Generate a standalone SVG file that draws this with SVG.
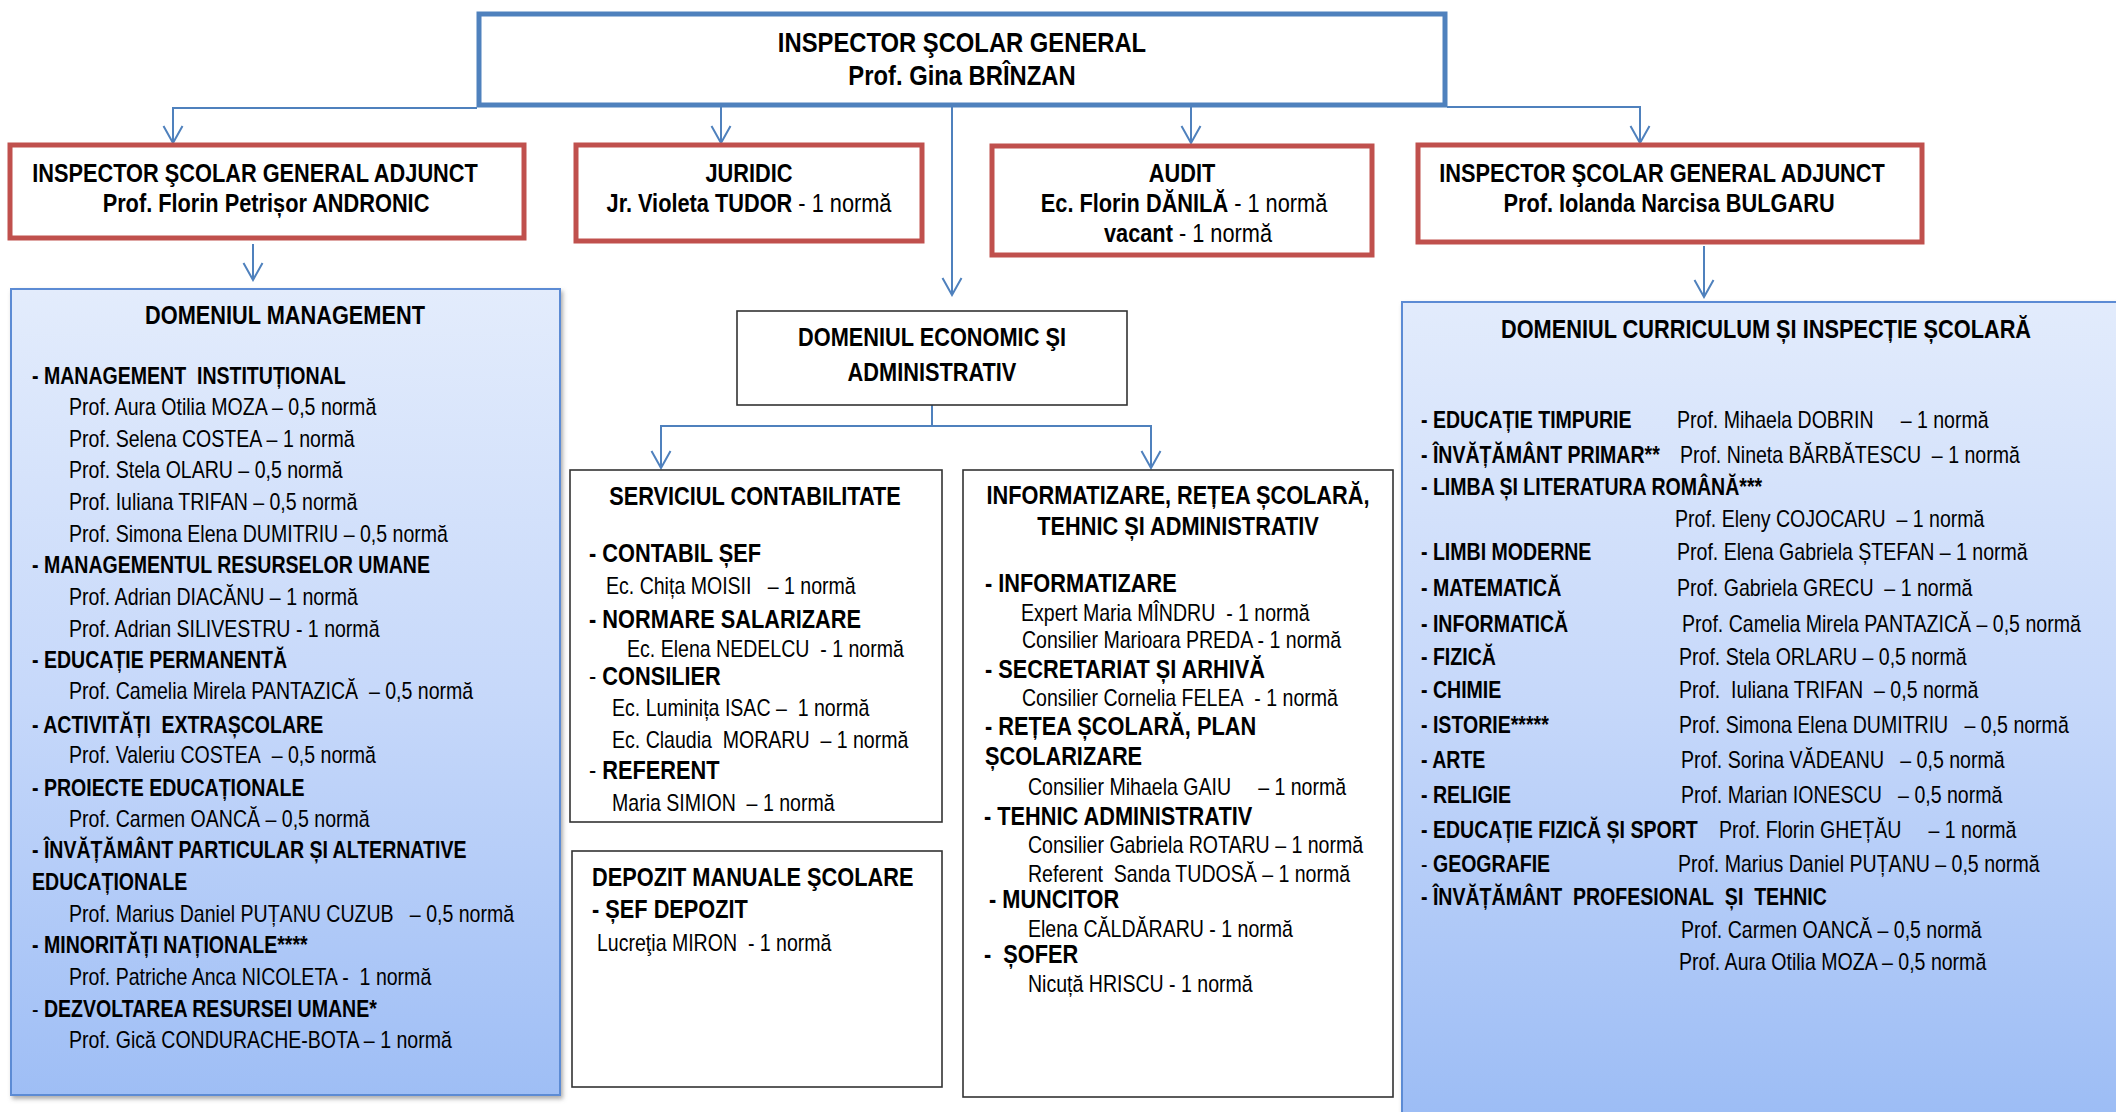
<svg xmlns="http://www.w3.org/2000/svg" width="2116" height="1112" viewBox="0 0 2116 1112" xml:space="preserve">
<defs>
<style>
.f{font-family:"Liberation Sans",Arial,sans-serif;fill:#000;white-space:pre}
.h28{font-size:28px;font-weight:bold}
.h26{font-size:25.6px;font-weight:bold}
.b{font-size:23px;font-weight:bold}
.r{font-size:23px;font-weight:normal}
.rw{font-weight:normal}
.m{text-anchor:middle}
.blue{fill:#fff;stroke:#4F81BD;stroke-width:5}
.red{fill:#fff;stroke:#C0504D;stroke-width:5}
.blk{fill:#fff;stroke:#333;stroke-width:1.6}
.dom{fill:url(#grad);stroke:#5B8BD4;stroke-width:2;filter:url(#sh)}
.con{fill:none;stroke:#4F81BD;stroke-width:2;marker-end:url(#arr)}
</style>
<linearGradient id="grad" gradientUnits="userSpaceOnUse" x1="0" y1="290" x2="0" y2="1110">
<stop offset="0" stop-color="#E3ECFC"/>
<stop offset="0.5" stop-color="#C6D8FA"/>
<stop offset="1" stop-color="#9DBDF5"/>
</linearGradient>
<filter id="sh" x="-5%" y="-5%" width="110%" height="110%">
<feDropShadow dx="2" dy="3" stdDeviation="2" flood-color="#777" flood-opacity="0.6"/>
</filter>
<marker id="arr" viewBox="-20 -12 22 24" refX="0" refY="0" markerWidth="22" markerHeight="24" markerUnits="userSpaceOnUse" orient="auto">
<path d="M-17,-9.5 L0,0 L-17,9.5" fill="none" stroke="#4F81BD" stroke-width="2"/>
</marker>
</defs>
<rect x="0" y="0" width="2116" height="1112" fill="#fff"/>

<g id="connectors">
<path class="con" d="M477,108 H173 V143"/>
<path class="con" d="M721,106 V143"/>
<path class="con" d="M952,106 V295"/>
<path class="con" d="M1191,106 V143"/>
<path class="con" d="M1447,107 H1640 V143"/>
<path class="con" d="M253,244 V280"/>
<path class="con" d="M1704,246 V297"/>
<path class="con" d="M932,405 V426 H661 V468"/>
<path class="con" d="M932,426 H1151 V468"/>
</g>

<g id="n-isg">
<rect class="blue" x="479" y="14" width="966" height="91"/>
<text class="f h28 m" transform="translate(962,52) scale(.85,1)">INSPECTOR ŞCOLAR GENERAL</text>
<text class="f h28 m" transform="translate(962,85) scale(.85,1)">Prof. Gina BRÎNZAN</text>
</g>

<g id="n-isga1">
<rect class="red" x="10" y="145" width="514" height="93"/>
<text class="f h26 m" transform="translate(255,182) scale(.85,1)">INSPECTOR ŞCOLAR GENERAL ADJUNCT</text>
<text class="f h26 m" transform="translate(266,212) scale(.85,1)">Prof. Florin Petrișor ANDRONIC</text>
</g>

<g id="n-juridic">
<rect class="red" x="576" y="145" width="346" height="96"/>
<text class="f h26 m" transform="translate(749,182) scale(.85,1)">JURIDIC</text>
<text class="f h26 m" transform="translate(749,212) scale(.85,1)">Jr. Violeta TUDOR<tspan class="rw"> - 1 normă</tspan></text>
</g>

<g id="n-audit">
<rect class="red" x="992" y="146" width="380" height="109"/>
<text class="f h26 m" transform="translate(1182,182) scale(.85,1)">AUDIT</text>
<text class="f h26 m" transform="translate(1184,212) scale(.85,1)">Ec. Florin DĂNILĂ<tspan class="rw"> - 1 normă</tspan></text>
<text class="f h26 m" transform="translate(1188,242) scale(.85,1)">vacant<tspan class="rw"> - 1 normă</tspan></text>
</g>

<g id="n-isga2">
<rect class="red" x="1418" y="145" width="504" height="97"/>
<text class="f h26 m" transform="translate(1662,182) scale(.85,1)">INSPECTOR ŞCOLAR GENERAL ADJUNCT</text>
<text class="f h26 m" transform="translate(1669,212) scale(.85,1)">Prof. Iolanda Narcisa BULGARU</text>
</g>

<g id="n-management">
<rect class="dom" x="11" y="289" width="549" height="806"/>
<text class="f h26 m" transform="translate(285,324) scale(.85,1)">DOMENIUL MANAGEMENT</text>
<text class="f b" transform="translate(32,384) scale(.85,1)">- MANAGEMENT&#160; INSTITUȚIONAL</text>
<text class="f r" transform="translate(69,415) scale(.85,1)">Prof. Aura Otilia MOZA – 0,5 normă</text>
<text class="f r" transform="translate(69,447) scale(.85,1)">Prof. Selena COSTEA – 1 normă</text>
<text class="f r" transform="translate(69,478) scale(.85,1)">Prof. Stela OLARU – 0,5 normă</text>
<text class="f r" transform="translate(69,510) scale(.85,1)">Prof. Iuliana TRIFAN – 0,5 normă</text>
<text class="f r" transform="translate(69,542) scale(.85,1)">Prof. Simona Elena DUMITRIU – 0,5 normă</text>
<text class="f b" transform="translate(32,573) scale(.85,1)">- MANAGEMENTUL RESURSELOR UMANE</text>
<text class="f r" transform="translate(69,605) scale(.85,1)">Prof. Adrian DIACĂNU – 1 normă</text>
<text class="f r" transform="translate(69,637) scale(.85,1)">Prof. Adrian SILIVESTRU - 1 normă</text>
<text class="f b" transform="translate(32,668) scale(.85,1)">- EDUCAȚIE PERMANENTĂ</text>
<text class="f r" transform="translate(69,699) scale(.85,1)">Prof. Camelia Mirela PANTAZICĂ&#160; – 0,5 normă</text>
<text class="f b" transform="translate(32,733) scale(.85,1)">- ACTIVITĂȚI&#160; EXTRAȘCOLARE</text>
<text class="f r" transform="translate(69,763) scale(.85,1)">Prof. Valeriu COSTEA&#160; – 0,5 normă</text>
<text class="f b" transform="translate(32,796) scale(.85,1)">- PROIECTE EDUCAȚIONALE</text>
<text class="f r" transform="translate(69,827) scale(.85,1)">Prof. Carmen OANCĂ – 0,5 normă</text>
<text class="f b" transform="translate(32,858) scale(.85,1)">- ÎNVĂȚĂMÂNT PARTICULAR ȘI ALTERNATIVE</text>
<text class="f b" transform="translate(32,890) scale(.85,1)">EDUCAȚIONALE</text>
<text class="f r" transform="translate(69,922) scale(.85,1)">Prof. Marius Daniel PUȚANU CUZUB&#160;&#160; – 0,5 normă</text>
<text class="f b" transform="translate(32,953) scale(.85,1)">- MINORITĂȚI NAȚIONALE****</text>
<text class="f r" transform="translate(69,985) scale(.85,1)">Prof. Patriche Anca NICOLETA -&#160; 1 normă</text>
<text class="f b" transform="translate(32,1017) scale(.85,1)"><tspan class="rw">- </tspan>DEZVOLTAREA RESURSEI UMANE*</text>
<text class="f r" transform="translate(69,1048) scale(.85,1)">Prof. Gică CONDURACHE-BOTA – 1 normă</text>
</g>

<g id="n-economic">
<rect class="blk" x="737" y="311" width="390" height="94"/>
<text class="f h26 m" transform="translate(932,346) scale(.85,1)">DOMENIUL ECONOMIC ŞI</text>
<text class="f h26 m" transform="translate(932,381) scale(.85,1)">ADMINISTRATIV</text>
</g>

<g id="n-contabilitate">
<rect class="blk" x="570" y="470" width="372" height="352"/>
<text class="f h26 m" transform="translate(755,505) scale(.85,1)">SERVICIUL CONTABILITATE</text>
<text class="f h26" transform="translate(589,562) scale(.85,1)">- CONTABIL ȘEF</text>
<text class="f r" transform="translate(606,594) scale(.85,1)">Ec. Chița MOISII&#160;&#160; – 1 normă</text>
<text class="f h26" transform="translate(589,628) scale(.85,1)">- NORMARE SALARIZARE</text>
<text class="f r" transform="translate(627,657) scale(.85,1)">Ec. Elena NEDELCU&#160; - 1 normă</text>
<text class="f h26" transform="translate(589,685) scale(.85,1)"><tspan class="rw">- </tspan>CONSILIER</text>
<text class="f r" transform="translate(612,716) scale(.85,1)">Ec. Luminița ISAC –&#160; 1 normă</text>
<text class="f r" transform="translate(612,748) scale(.85,1)">Ec. Claudia&#160; MORARU&#160; – 1 normă</text>
<text class="f h26" transform="translate(589,779) scale(.85,1)"><tspan class="rw">- </tspan>REFERENT</text>
<text class="f r" transform="translate(612,811) scale(.85,1)">Maria SIMION&#160; – 1 normă</text>
</g>

<g id="n-depozit">
<rect class="blk" x="572" y="851" width="370" height="236"/>
<text class="f h26" transform="translate(592,886) scale(.85,1)">DEPOZIT MANUALE ŞCOLARE</text>
<text class="f h26" transform="translate(592,918) scale(.85,1)">- ȘEF DEPOZIT</text>
<text class="f r" transform="translate(597,951) scale(.85,1)">Lucreţia MIRON&#160; - 1 normă</text>
</g>

<g id="n-informatizare">
<rect class="blk" x="963" y="470" width="430" height="627"/>
<text class="f h26 m" transform="translate(1178,504) scale(.85,1)">INFORMATIZARE, REȚEA ȘCOLARĂ,</text>
<text class="f h26 m" transform="translate(1178,535) scale(.85,1)">TEHNIC ȘI ADMINISTRATIV</text>
<text class="f h26" transform="translate(985,592) scale(.85,1)">- INFORMATIZARE</text>
<text class="f r" transform="translate(1021,621) scale(.85,1)">Expert Maria MÎNDRU&#160; - 1 normă</text>
<text class="f r" transform="translate(1022,648) scale(.85,1)">Consilier Marioara PREDA - 1 normă</text>
<text class="f h26" transform="translate(985,678) scale(.85,1)">- SECRETARIAT ȘI ARHIVĂ</text>
<text class="f r" transform="translate(1022,706) scale(.85,1)">Consilier Cornelia FELEA&#160; - 1 normă</text>
<text class="f h26" transform="translate(985,735) scale(.85,1)">- REȚEA ȘCOLARĂ, PLAN</text>
<text class="f h26" transform="translate(985,765) scale(.85,1)">ȘCOLARIZARE</text>
<text class="f r" transform="translate(1028,795) scale(.85,1)">Consilier Mihaela GAIU&#160;&#160;&#160;&#160; – 1 normă</text>
<text class="f h26" transform="translate(984,825) scale(.85,1)">- TEHNIC ADMINISTRATIV</text>
<text class="f r" transform="translate(1028,853) scale(.85,1)">Consilier Gabriela ROTARU – 1 normă</text>
<text class="f r" transform="translate(1028,882) scale(.85,1)">Referent&#160; Sanda TUDOSĂ – 1 normă</text>
<text class="f h26" transform="translate(989,908) scale(.85,1)">- MUNCITOR</text>
<text class="f r" transform="translate(1028,937) scale(.85,1)">Elena CĂLDĂRARU - 1 normă</text>
<text class="f h26" transform="translate(984,963) scale(.85,1)">-&#160; ȘOFER</text>
<text class="f r" transform="translate(1028,992) scale(.85,1)">Nicuță HRISCU - 1 normă</text>
</g>

<g id="n-curriculum">
<rect class="dom" x="1402" y="302" width="740" height="840"/>
<text class="f h26 m" transform="translate(1766,338) scale(.85,1)">DOMENIUL CURRICULUM ȘI INSPECȚIE ȘCOLARĂ</text>
<text class="f b" transform="translate(1421,428) scale(.85,1)">- EDUCAȚIE TIMPURIE</text>
<text class="f r" transform="translate(1677,428) scale(.85,1)">Prof. Mihaela DOBRIN&#160;&#160;&#160;&#160; – 1 normă</text>
<text class="f b" transform="translate(1421,463) scale(.85,1)">- ÎNVĂȚĂMÂNT PRIMAR**</text>
<text class="f r" transform="translate(1680,463) scale(.85,1)">Prof. Nineta BĂRBĂTESCU&#160; – 1 normă</text>
<text class="f b" transform="translate(1421,495) scale(.85,1)">- LIMBA ȘI LITERATURA ROMÂNĂ***</text>
<text class="f r" transform="translate(1675,527) scale(.85,1)">Prof. Eleny COJOCARU&#160; – 1 normă</text>
<text class="f b" transform="translate(1421,560) scale(.85,1)">- LIMBI MODERNE</text>
<text class="f r" transform="translate(1677,560) scale(.85,1)">Prof. Elena Gabriela ȘTEFAN – 1 normă</text>
<text class="f b" transform="translate(1421,596) scale(.85,1)">- MATEMATICĂ</text>
<text class="f r" transform="translate(1677,596) scale(.85,1)">Prof. Gabriela GRECU&#160; – 1 normă</text>
<text class="f b" transform="translate(1421,632) scale(.85,1)">- INFORMATICĂ</text>
<text class="f r" transform="translate(1682,632) scale(.85,1)">Prof. Camelia Mirela PANTAZICĂ – 0,5 normă</text>
<text class="f b" transform="translate(1421,665) scale(.85,1)">- FIZICĂ</text>
<text class="f r" transform="translate(1679,665) scale(.85,1)">Prof. Stela ORLARU – 0,5 normă</text>
<text class="f b" transform="translate(1421,698) scale(.85,1)">- CHIMIE</text>
<text class="f r" transform="translate(1679,698) scale(.85,1)">Prof.&#160; Iuliana TRIFAN&#160; – 0,5 normă</text>
<text class="f b" transform="translate(1421,733) scale(.85,1)">- ISTORIE*****</text>
<text class="f r" transform="translate(1679,733) scale(.85,1)">Prof. Simona Elena DUMITRIU&#160;&#160; – 0,5 normă</text>
<text class="f b" transform="translate(1421,768) scale(.85,1)">- ARTE</text>
<text class="f r" transform="translate(1681,768) scale(.85,1)">Prof. Sorina VĂDEANU&#160;&#160; – 0,5 normă</text>
<text class="f b" transform="translate(1421,803) scale(.85,1)">- RELIGIE</text>
<text class="f r" transform="translate(1681,803) scale(.85,1)">Prof. Marian IONESCU&#160;&#160; – 0,5 normă</text>
<text class="f b" transform="translate(1421,838) scale(.85,1)">- EDUCAȚIE FIZICĂ ȘI SPORT</text>
<text class="f r" transform="translate(1719,838) scale(.85,1)">Prof. Florin GHEȚĂU&#160;&#160;&#160;&#160; – 1 normă</text>
<text class="f b" transform="translate(1421,872) scale(.85,1)"><tspan class="rw">- </tspan>GEOGRAFIE</text>
<text class="f r" transform="translate(1678,872) scale(.85,1)">Prof. Marius Daniel PUȚANU – 0,5 normă</text>
<text class="f b" transform="translate(1421,905) scale(.85,1)">- ÎNVĂȚĂMÂNT&#160; PROFESIONAL&#160; ȘI&#160; TEHNIC</text>
<text class="f r" transform="translate(1681,938) scale(.85,1)">Prof. Carmen OANCĂ – 0,5 normă</text>
<text class="f r" transform="translate(1679,970) scale(.85,1)">Prof. Aura Otilia MOZA – 0,5 normă</text>
</g>
</svg>
